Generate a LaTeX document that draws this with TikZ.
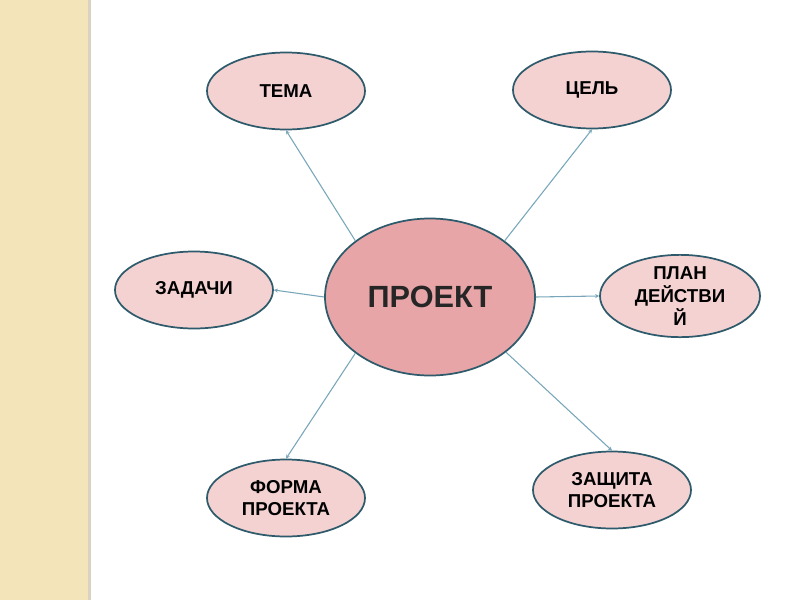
\documentclass[tikz,border=0pt]{standalone}
\usepackage{fontspec}
\setmainfont{Liberation Sans}
\usetikzlibrary{shapes.geometric,arrows.meta}
\definecolor{strip}{HTML}{F4E4B9}
\definecolor{stripline}{HTML}{D8D2C0}
\definecolor{pale}{HTML}{F5D2D2}
\definecolor{mid}{HTML}{E8A5A7}
\definecolor{rim}{HTML}{2E5B6C}
\definecolor{wire}{HTML}{78A6BA}
\newlength{\unitlen}
\setlength{\unitlen}{0.75pt}
\tikzset{
  leaf/.style={ellipse, draw=rim, line width=1.3pt, fill=pale, minimum width=158\unitlen, minimum height=77\unitlen, inner sep=0pt, align=center, font=\bfseries\fontsize{14}{17}\selectfont},
  hub/.style={ellipse, draw=rim, line width=1.3pt, fill=mid, minimum width=210\unitlen, minimum height=157\unitlen, inner sep=0pt, font=\bfseries\fontsize{23}{27}\selectfont, text=black!85},
  wirestyle/.style={draw=wire, line width=0.8pt, -{Stealth[length=3pt,width=3pt]}}
}
\begin{document}
\begin{tikzpicture}[x=0.75pt,y=-0.75pt]
\useasboundingbox (0,0) rectangle (800,600);
\fill[white] (0,0) rectangle (800,600);
\fill[strip] (0,0) rectangle (88,600);
\fill[stripline] (88,0) rectangle (91,600);
\node[hub] (p) at (430,297) {ПРОЕКТ};
\node[leaf] (tema) at (286,91) {ТЕМА};
\node[leaf] (cel) at (592,90) {ЦЕЛЬ};
\node[leaf] (zad) at (194,290) {ЗАДАЧИ};
\node[leaf, minimum width=160\unitlen, minimum height=78\unitlen] (plan) at (680,296) {ПЛАН\\ДЕЙСТВИ\\Й};
\node[leaf] (forma) at (286,498) {ФОРМА\\ПРОЕКТА};
\node[leaf] (zash) at (612,490) {ЗАЩИТА\\ПРОЕКТА};
\draw[wirestyle] (p.143) -- (tema.south);
\draw[wirestyle] (p.37) -- (cel.south);
\draw[wirestyle] (p.west) -- (zad.east);
\draw[wirestyle] (p.east) -- (plan.west);
\draw[wirestyle] (p.-143) -- (forma.north);
\draw[wirestyle] (p.-36) -- (zash.north);
\end{tikzpicture}
\end{document}
